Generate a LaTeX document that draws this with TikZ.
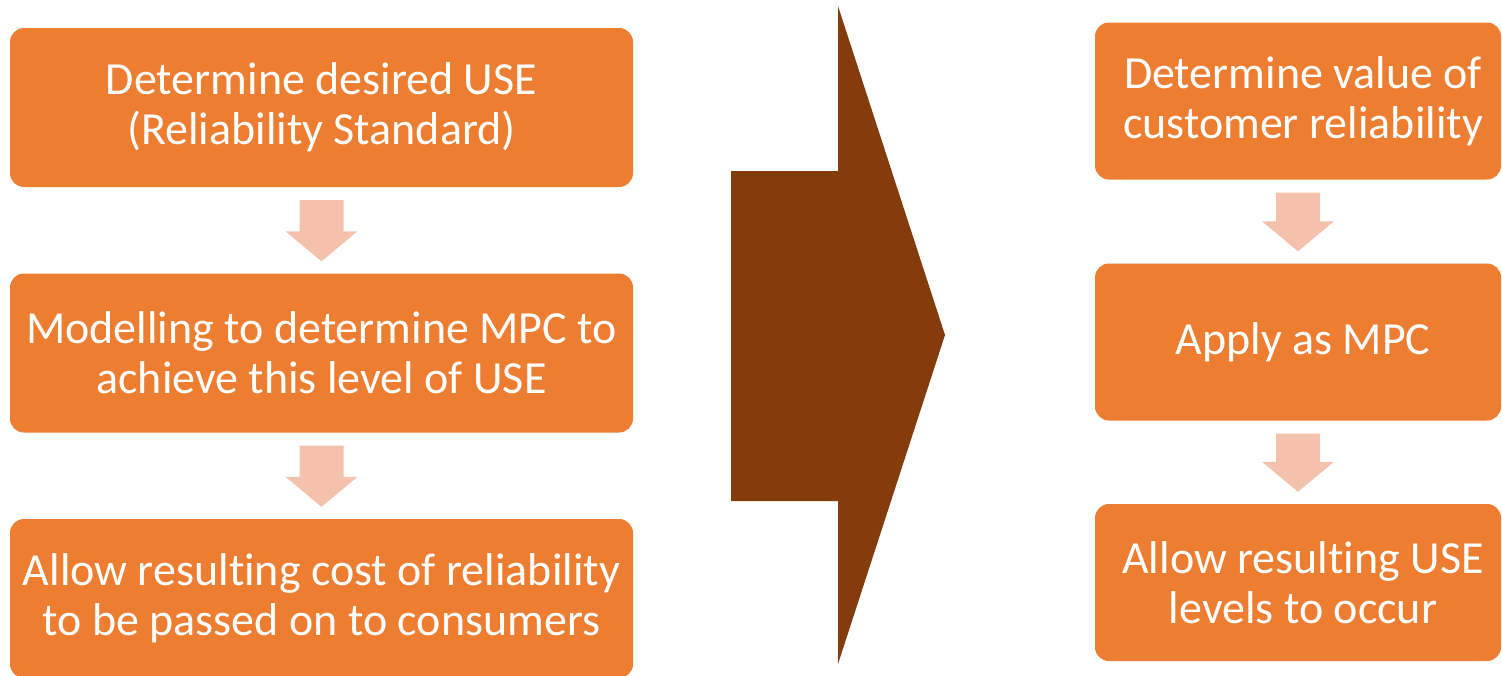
\documentclass[tikz,border=0pt]{standalone}
\usepackage{fontspec}
\setmainfont[Ligatures={NoCommon}]{Carlito}
\usetikzlibrary{calc}
\definecolor{boxorange}{HTML}{ED7D31}
\definecolor{lightarrow}{HTML}{F4C1AD}
\definecolor{bigbrown}{HTML}{843C0C}
\newcommand{\resulting}{result\kern0pt ing}
\tikzset{
  stepbox/.style={fill=boxorange, draw=none, rounded corners=14pt, text=white,
    align=center, font=\fontsize{46}{50}\selectfont, inner sep=0pt},
  leftbox/.style={stepbox, minimum width=623pt, minimum height=159pt},
  rightbox/.style={stepbox, minimum width=406pt, minimum height=157pt},
  downarrow/.style={fill=lightarrow, draw=none},
  bigarrow/.style={fill=bigbrown, draw=none}
}
\newcommand{\downarr}[2]{%
  \fill[downarrow] ($(#1.south)+(-22,13)$) -- ($(#1.south)+(22,13)$)
    -- ($(#2.north)+(22,-42)$) -- ($(#2.north)+(36,-42)$)
    -- ($(#2.north)+(0,-12)$) -- ($(#2.north)+(-36,-42)$)
    -- ($(#2.north)+(-22,-42)$) -- cycle;}
\begin{document}
\begin{tikzpicture}[x=1pt,y=-1pt]
\useasboundingbox (0,0) rectangle (1502,675);
% left column
\node[leftbox] (l1) at (321.5,107.5) {Determine desired USE\\(Reliability Standard)};
\node[leftbox] (l2) at (321.5,353) {Modelling to determine MPC to\\achieve this level of USE};
\node[leftbox] (l3) at (321.5,598.5) {Allow \resulting{} cost of reliability\\to be passed on to consumers};
% right column
\node[rightbox] (r1) at (1298,101) {\hspace*{10pt}Determine value of\\\hspace*{10pt}customer reliability};
\node[rightbox] (r2) at (1298,342) {\hspace*{10pt}Apply as MPC};
\node[rightbox] (r3) at (1298,582.5) {\hspace*{10pt}Allow \resulting{} USE\\\hspace*{10pt}levels to occur};
% small arrows
\downarr{l1}{l2}
\downarr{l2}{l3}
\downarr{r1}{r2}
\downarr{r2}{r3}
% big arrow
\fill[bigarrow] (731,171) -- (838,171) -- (838,6) -- (945,335) -- (838,664)
  -- (838,501) -- (731,501) -- cycle;
\end{tikzpicture}
\end{document}
